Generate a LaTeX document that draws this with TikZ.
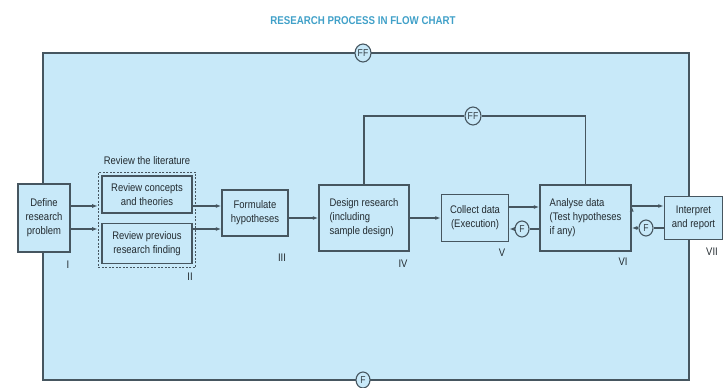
\documentclass[tikz,border=0pt]{standalone}
\usepackage{fontspec}
\setmainfont{Liberation Sans}[FakeStretch=0.86]
\usetikzlibrary{positioning,fit,arrows.meta,shapes.geometric}
\definecolor{sky}{RGB}{200,233,249}
\definecolor{ink}{RGB}{70,86,96}
\definecolor{headline}{RGB}{64,160,200}

\begin{document}
\begin{tikzpicture}
      [ x=1pt, y=-1pt,
        box/.style={draw=ink, line width=1.5pt, fill=sky, inner sep=2pt, align=center,
                    text=ink!50!black, font=\fontsize{11}{14}\selectfont},
        joint/.style={draw=ink, line width=1.1pt, fill=sky, ellipse, inner sep=0pt,
                      minimum width=14pt, minimum height=16pt, text=ink!70!black, font=\fontsize{10}{10}\selectfont},
        numeral/.style={text=ink!50!black, font=\fontsize{11}{12}\selectfont},
        flow/.style={-{Latex[length=5.5pt,width=4pt]}, draw=ink, line width=1.2pt},
        plain/.style={draw=ink, line width=1.2pt}
      ]
      \useasboundingbox (0,0) rectangle (724,388);
      \node[text=headline, font=\bfseries\fontsize{11.3}{13}\selectfont] (title) at (363,21)
            {RESEARCH PROCESS IN FLOW CHART};
      \draw[ink, line width=1.5pt, fill=sky] (43,53) rectangle (689,380);
      \node[joint, minimum width=16pt, minimum height=18pt]  (fftop)  at (363,53)   {FF};
      \node[joint]                                        (fbot)   at (363,380)  {F};

      \node[box, minimum width=52pt, minimum height=68pt] (define)    at (44,218)     {Define\\research\\problem};
      \node[box, minimum width=90pt, minimum height=37pt] (concepts)  at (147,194.5)  {Review concepts\\and theories};
      \node[box, minimum width=90pt, minimum height=40pt] (previous)  [below=9pt of concepts]
                                                                                   {Review previous\\research finding};
      \node[draw=ink, line width=1.2pt, dash pattern=on 2pt off 1.5pt, inner sep=3pt,
            fit=(concepts)(previous)]                 (lit)       {};
      \node[numeral]                                  (littitle)  [above=4pt of lit] {Review the literature};
      \node[box, minimum width=66pt, minimum height=46pt] (formulate) at (255,213)    {Formulate\\hypotheses};
      \node[box, minimum width=90pt, minimum height=66pt, align=left] (design) at (364,218)
                                                                                   {Design research\\(including\\sample design)};
      \node[box, minimum width=67pt, minimum height=47pt] (collect)   [right=31pt of design]  {Collect data\\(Execution)};
      \node[box, minimum width=91pt, minimum height=66pt, align=left] (analyse) [right=30pt of collect]
                                                                                   {Analyse data\\(Test hypotheses\\if any)};
      \node[box, minimum width=58pt, minimum height=43pt] (interpret) [right=32pt of analyse] {Interpret\\and report};

      \node[numeral] (nI)   at (68,265)  {I};
      \node[numeral] (nII)  at (190,277) {II};
      \node[numeral] (nIII) at (282,258) {III};
      \node[numeral] (nIV)  at (403,264) {IV};
      \node[numeral] (nV)   at (502,253) {V};
      \node[numeral] (nVI)  at (623,262) {VI};
      \node[numeral] (nVII) at (712,252) {VII};

      \coordinate (upper)    at ([yshift=12pt]define.east);
      \coordinate (lower)    at ([yshift=-11pt]define.east);
      \coordinate (toanalyse) at ([yshift=11pt]collect.east);
      \coordinate (toreport) at ([yshift=12pt]analyse.east);
      \node[joint, minimum width=16pt, minimum height=18pt] (ffmid) at (473,116) {FF};
      \node[joint] (fcollect) at (522,229) {F};
      \node[joint] (fanalyse) at (646,228) {F};

      \path[flow] (upper)                    edge (lit.west |- upper)
                  (lower)                    edge (lit.west |- lower)
                  (concepts.east |- upper)   edge (formulate.west |- upper)
                  (previous.east |- lower)   edge (formulate.west |- lower)
                  (formulate.east |- design) edge (design.west)
                  (design)                   edge (collect)
                  (toanalyse)                edge (analyse.west |- toanalyse)
                  (toreport)                 edge (interpret.west |- toreport)
                  (fcollect)                 edge (collect.east |- fcollect)
                  (fanalyse)                 edge (analyse.east |- fanalyse);

      \path[plain] (design.north) edge [to path={|- (\tikztotarget)}] (ffmid.west)
                   (ffmid.east)   edge [to path={-| (\tikztotarget)}] (analyse.north)
                   (analyse.west |- fcollect)   edge (fcollect)
                   (interpret.west |- fanalyse) edge (fanalyse);
    \end{tikzpicture}
\end{document}
